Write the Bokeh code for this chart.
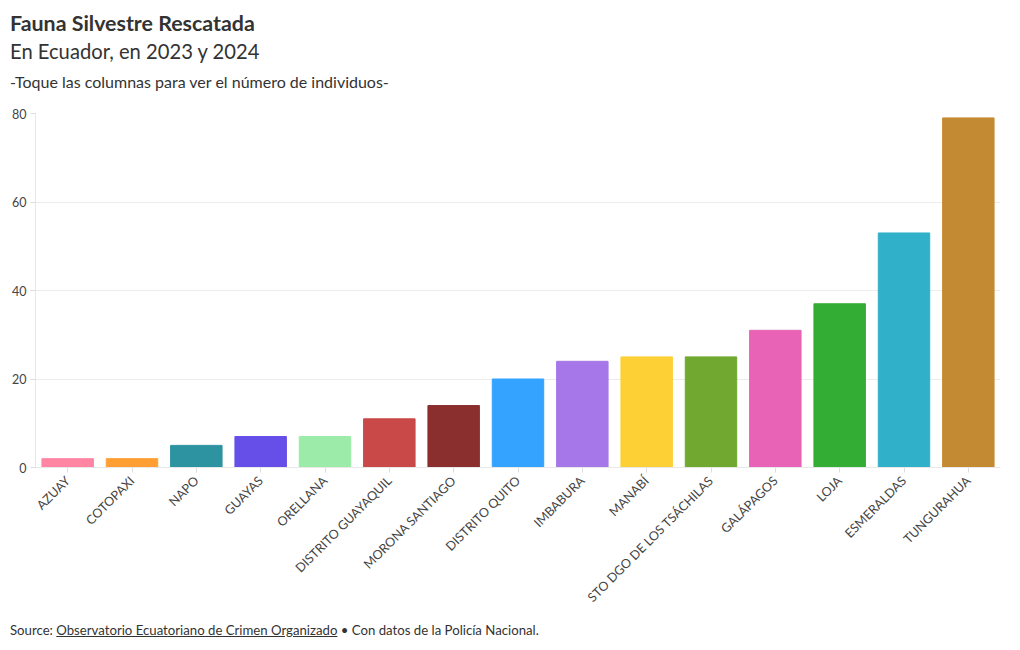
from bokeh.plotting import figure
from bokeh.models import ColumnDataSource, Div, FixedTicker, Range1d
from bokeh.layouts import column
from bokeh.embed import file_html
from bokeh.resources import INLINE
import math

categories = ["AZUAY", "COTOPAXI", "NAPO", "GUAYAS", "ORELLANA", "DISTRITO GUAYAQUIL",
              "MORONA SANTIAGO", "DISTRITO QUITO", "IMBABURA", "MANABÍ",
              "STO DGO DE LOS TSÁCHILAS", "GALÁPAGOS", "LOJA", "ESMERALDAS", "TUNGURAHUA"]
values = [2, 2, 5, 7, 7, 11, 14, 20, 24, 25, 25, 31, 37, 53, 79]
colors = ["#ff85a2", "#ff9f33", "#2e93a0", "#664ee8", "#9deba8", "#c94848", "#8b2e2e",
          "#33a3ff", "#a677e8", "#fdd035", "#70a830", "#e863b5", "#33ad33", "#31b0c9", "#c48a33"]
y_ticks = [0, 20, 40, 60, 80]

title_text = "Fauna Silvestre Rescatada"
subtitle_text = "En Ecuador, en 2023 y 2024"
note_text = "-Toque las columnas para ver el número de individuos-"

FONT = "Lato"
W = 1010


def line(txt, top, size, weight="normal"):
    return (f'<div style="position:absolute;left:10px;top:{top}px;font-size:{size}px;'
            f'font-weight:{weight};line-height:1;white-space:nowrap;">{txt}</div>')


# ---- header ----
header = Div(
    text=(f'<div style="position:relative;width:{W}px;height:103px;font-family:{FONT};color:#333333;">'
          + line(title_text, 13, 21.4, "bold")
          + line(subtitle_text, 41, 20.2)
          + line(note_text, 74, 16)
          + '</div>'),
    width=W, height=103, margin=(0, 0, 0, 0))

# ---- main chart ----
src = ColumnDataSource(dict(cat=categories, val=values, col=colors))

p = figure(x_range=categories, frame_width=965, frame_height=354, output_backend="svg",
           toolbar_location=None, tools="")
p.y_range = Range1d(0, 80)
p.vbar(x="cat", top="val", width=0.8, color="col", source=src)

p.min_border_left = 35
p.min_border_right = 10
p.min_border_top = 10
p.min_border_bottom = 150
p.outline_line_color = None

p.xgrid.grid_line_color = None
p.ygrid.grid_line_color = "#ececec"
p.yaxis.ticker = FixedTicker(ticks=y_ticks)

for ax in (p.xaxis, p.yaxis):
    ax.axis_line_color = "#e8e8e8"
    ax.major_tick_line_color = "#dddddd"
    ax.major_tick_in = 0
    ax.major_tick_out = 5
    ax.minor_tick_line_color = None
    ax.major_label_text_font = FONT
    ax.major_label_text_color = "#444444"
p.yaxis.major_label_text_font_size = "12.5px"
p.xaxis.major_label_text_font_size = "12.6px"
p.yaxis.major_label_standoff = 4
p.xaxis.major_label_orientation = math.pi / 4
p.xaxis.major_label_standoff = 6

# ---- footer ----
footer = Div(text=('<div style="font-family:Lato;font-size:13.2px;line-height:1;color:#333333;'
                   'white-space:nowrap;padding-left:10px;">Source: '
                   '<u>Observatorio Ecuatoriano de Crimen Organizado</u>'
                   ' &bull; Con datos de la Policía Nacional.</div>'),
             width=W, height=20, margin=(6, 0, 0, 0))

layout = column(header, p, footer, spacing=0)
open("out.html", "w").write(file_html(layout, INLINE))
